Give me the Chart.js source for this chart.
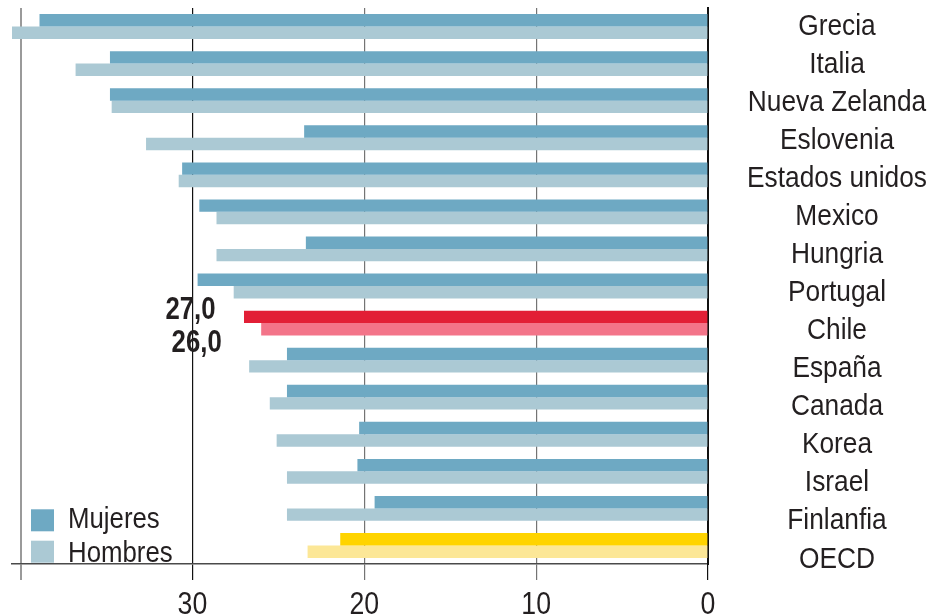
<!DOCTYPE html>
<html>
<head>
<meta charset="utf-8">
<script src="https://cdn.jsdelivr.net/npm/chart.js@4.4.1/dist/chart.umd.min.js"></script>
<style>
  html, body { margin: 0; padding: 0; background: #fff; }
  #wrap { width: 931px; height: 616px; }
</style>
</head>
<body>
<div id="wrap"><canvas id="brechaChart" width="931" height="616"></canvas></div>
<script>
let paises = ["Grecia", "Italia", "Nueva Zelanda", "Eslovenia", "Estados unidos", "Mexico", "Hungria",
  "Portugal", "Chile", "España", "Canada", "Korea", "Israel", "Finlanfia", "OECD"];
let mujeres = [38.9, 34.8, 34.8, 23.5, 30.6, 29.6, 23.4, 29.7, 27.0, 24.5, 24.5, 20.3, 20.4, 19.4, 21.4];
let hombres = [40.5, 36.8, 34.7, 32.7, 30.8, 28.6, 28.6, 27.6, 26.0, 26.7, 25.5, 25.1, 24.5, 24.5, 23.3];
let ticksX = [0, 10, 20, 30, 40];
let conValor = "Chile";

let fuente = "'Liberation Sans', Arial, sans-serif";
let colorTexto = "#231F20";

// azul normal, rojo para Chile, amarillo para la OECD
let coloresM = { base: "#6EA9C3", Chile: "#E21F36", OECD: "#FFD400" };
let coloresH = { base: "#ABC9D4", Chile: "#F37489", OECD: "#FCE797" };
let pintar = (tabla) => paises.map((p) => tabla[p] || tabla.base);

// texto estrechado a lo ancho (no hay fuente narrow instalada)
function texto(ctx, str, x, y, size, align, bold, ancho) {
  ctx.save();
  ctx.translate(x, y);
  ctx.scale(ancho || 0.86, 1);
  ctx.font = (bold ? "bold " : "") + size + "px " + fuente;
  ctx.textAlign = align;
  ctx.textBaseline = "alphabetic";
  ctx.fillStyle = colorTexto;
  ctx.fillText(str, 0, 0);
  ctx.restore();
}

// etiquetas de los ejes
const rotulos = {
  id: "rotulos",
  afterDraw(chart) {
    const { ctx, chartArea, scales } = chart;
    ticksX.forEach((v) => {
      if (v === 40) return;
      texto(ctx, String(v), scales.x.getPixelForValue(v), chartArea.bottom + 50, 31, "center", false, 0.86);
    });
    const y0 = scales.y.getPixelForValue(0) - 2.5;
    const xc = chartArea.right + 129;
    paises.forEach((p, i) => {
      texto(ctx, p, xc, y0 + i * 38.07 + 10.5, 30, "center", false, 0.877);
    });
  },
};

// leyenda dentro del area, abajo a la izquierda
const leyenda = {
  id: "leyenda",
  afterDraw(chart) {
    const { ctx, chartArea } = chart;
    chart.data.datasets.forEach((ds, i) => {
      const y = chartArea.bottom - 54.7 + i * 31.4;
      ctx.fillStyle = ds.colorLeyenda;
      ctx.fillRect(chartArea.left + 19, y, 23, 22);
      texto(ctx, ds.label, chartArea.left + 56, y + 19 + i * 2, 30, "left", false, 0.86);
    });
  },
};

// valores de Chile junto a sus barras
const valores = {
  id: "valores",
  afterDatasetsDraw(chart) {
    const { ctx } = chart;
    const i = chart.data.labels.indexOf(conValor);
    const dx = [28.5, 39.5];
    const dy = [2.3, 22.7];
    chart.data.datasets.forEach((ds, d) => {
      const barra = chart.getDatasetMeta(d).data[i];
      const str = ds.data[i].toFixed(1).replace(".", ",");
      texto(ctx, str, barra.x - dx[d], barra.y + dy[d], 31, "right", true, 0.83);
    });
  },
};

let ctx = document.getElementById("brechaChart").getContext("2d");

let myChart = new Chart(ctx, {
  type: "bar",
  data: {
    labels: paises,
    datasets: [
      { label: "Mujeres", data: mujeres, backgroundColor: pintar(coloresM), colorLeyenda: coloresM.base },
      { label: "Hombres", data: hombres, backgroundColor: pintar(coloresH), colorLeyenda: coloresH.base },
    ],
  },
  options: {
    indexAxis: "y",
    responsive: false,
    animation: false,
    events: [],
    layout: { padding: { left: 12, top: 8, right: 0, bottom: 0 } },
    datasets: { bar: { barPercentage: 1, categoryPercentage: 0.67 } },
    scales: {
      x: {
        reverse: true,
        min: 0,
        max: 40.5,
        afterBuildTicks: (s) => {
          s.ticks = ticksX.map((v) => ({ value: v }));
        },
        grid: {
          color: (c) => (c.tick.value === 30 || c.tick.value === 0 ? "#111" : c.tick.value === 40 ? "#9a9a9a" : "#747474"),
          lineWidth: (c) => (c.tick.value === 40 ? 2 : 1.2),
          tickLength: 16,
        },
        border: { display: true, color: "#4a4a4a", width: 1.5 },
        ticks: { display: false },
        afterFit: (s) => {
          s.height = 52;
          s.paddingLeft = 0;
          s.paddingRight = 0;
        },
      },
      y: {
        position: "right",
        grid: { display: false, drawTicks: false },
        border: { display: true, color: "#111", width: 2 },
        ticks: { display: false },
        afterFit: (s) => {
          s.width = 223;
          s.paddingTop = 0;
          s.paddingBottom = 0;
        },
      },
    },
    plugins: {
      legend: { display: false },
      tooltip: { enabled: false },
    },
  },
  plugins: [leyenda, valores, rotulos],
});
</script>
</body>
</html>
